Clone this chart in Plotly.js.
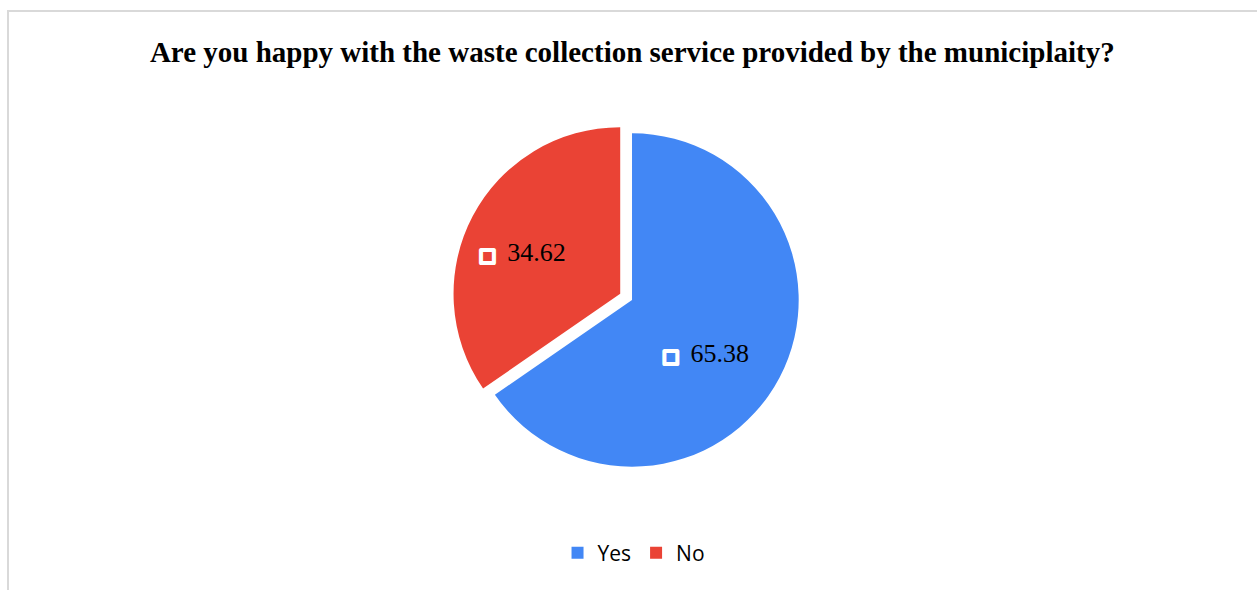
<!DOCTYPE html>
<html>
<head>
<meta charset="utf-8">
<script src="https://cdn.plot.ly/plotly-3.0.1.min.js"></script>
<style>
html,body{margin:0;padding:0;background:#fff;}
#wrap{position:relative;width:1257px;height:590px;}
#chart{position:absolute;left:0;top:0;width:1257px;height:590px;}
#frame{position:absolute;left:7px;top:10px;width:1260px;height:590px;border-left:2px solid #d9d9d9;border-top:2px solid #d9d9d9;pointer-events:none;}
</style>
</head>
<body>
<div id="wrap"><div id="chart"></div><div id="frame"></div></div>
<script>
const categories = ["Yes", "No"];
const values = [65.38, 34.62];
const colors = ["#4287F5", "#EA4335"];
const pulls = [0, 0.08];

const nb = "\u00A0";
const keyBox = "<span style='fill:%{color};stroke:#ffffff;stroke-width:4px;font-family:DejaVu Sans;font-size:17px'>■</span><span style='font-size:11px'>" + nb + nb + "</span>" + " %{value:.2f}";

const trace = {
  type: "pie",
  labels: categories,
  values: values,
  sort: false,
  direction: "clockwise",
  rotation: 0,
  pull: pulls,
  marker: {colors: colors, line: {color: "#ffffff", width: 0}},
  textinfo: "value",
  texttemplate: [
    "<span style='font-size:20px'>" + nb + "</span><br>" + keyBox,
    keyBox + nb.repeat(6)
  ],
  textposition: "inside",
  insidetextorientation: "horizontal",
  insidetextfont: {family: "Liberation Serif, Times New Roman, serif", size: 26, color: "#000000"},
  hoverinfo: "label+value",
  domain: {x: [0.0056, 1], y: [0, 1]}
};

const layout = {
  width: 1257,
  height: 590,
  paper_bgcolor: "#ffffff",
  margin: {l: 0, r: 0, t: 120, b: 110},
  title: {
    text: "<b>Are you happy with the waste collection service provided by the municiplaity?</b>",
    font: {family: "Liberation Serif, Times New Roman, serif", size: 29, color: "#000000"},
    x: 0.503, xanchor: "center",
    y: 1 - 52/590, yanchor: "middle", yref: "container"
  },
  showlegend: true,
  legend: {
    orientation: "h",
    x: 0.504, xanchor: "center", xref: "container",
    y: 1 - 553/590, yanchor: "middle", yref: "container",
    font: {family: "Open Sans, Liberation Sans, sans-serif", size: 21, color: "#000000"},
    itemwidth: 30,
    traceorder: "normal"
  }
};

Plotly.newPlot("chart", [trace], layout, {displayModeBar: false, staticPlot: true});
</script>
</body>
</html>
